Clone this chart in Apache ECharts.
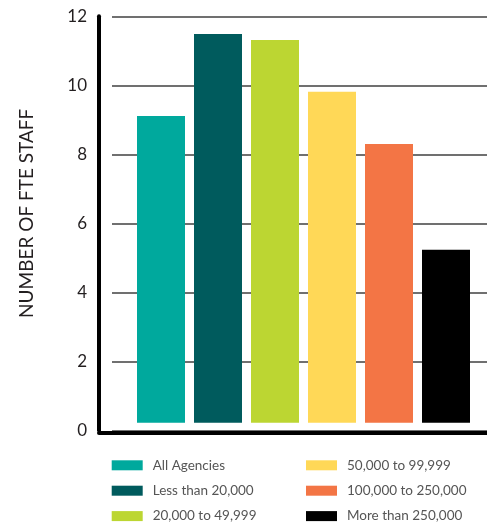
<!DOCTYPE html>
<html>
<head>
<meta charset="utf-8">
<script src="https://cdn.jsdelivr.net/npm/echarts@6/dist/echarts.min.js"></script>
<style>
html,body{margin:0;padding:0;background:#fff;}
#chart{width:487px;height:527px;}
</style>
</head>
<body>
<div id="chart"></div>
<script>
const categories = ['All Agencies', 'Less than 20,000', '20,000 to 49,999', '50,000 to 99,999', '100,000 to 250,000', 'More than 250,000'];
const values = [9.11, 11.49, 11.31, 9.81, 8.30, 5.23];
const yTicks = [0, 2, 4, 6, 8, 10, 12];
const yTitle = 'NUMBER OF FTE STAFF';

const palette = ['#00a99d', '#005b5d', '#bcd632', '#ffd857', '#f37545', '#000000'];
const FONT = 'Lato';

const chart = echarts.init(document.getElementById('chart'), null, {renderer: 'canvas'});

const series = categories.map((name, i) => ({
  name: name,
  type: 'bar',
  xAxisIndex: 2,
  yAxisIndex: 2,
  barWidth: 48,
  barGap: '-100%',
  itemStyle: {color: palette[i]},
  data: values.map((v, j) => (j === i ? v : '-'))
}));

const option = {
  backgroundColor: '#fff',
  animation: false,
  grid: [
    {left: 99, right: 0, top: 16.3, bottom: 96.7},
    {left: 112, right: 0, top: 16.3, bottom: 96.7},
    {left: 132.5, right: 12.5, top: 16.3, bottom: 104.3}
  ],
  xAxis: [
    {gridIndex: 0, type: 'category', data: [''], offset: 2,
     axisLine: {show: true, onZero: false, lineStyle: {color: '#000', width: 4}},
     axisTick: {show: false}, axisLabel: {show: false}, splitLine: {show: false}},
    {gridIndex: 1, type: 'category', data: [''], show: false},
    {gridIndex: 2, type: 'category', data: categories, show: false}
  ],
  yAxis: [
    {gridIndex: 0, type: 'value', min: yTicks[0], max: yTicks[yTicks.length - 1], interval: 2,
     axisLine: {show: true, lineStyle: {color: '#000', width: 4}},
     axisTick: {show: false},
     axisLabel: {show: true, fontFamily: FONT, fontSize: 17, color: '#231f20', margin: 12},
     splitLine: {show: false},
     name: yTitle, nameLocation: 'middle', nameGap: 63, nameRotate: 90,
     nameTextStyle: {fontFamily: FONT, fontSize: 19, color: '#231f20', padding: [0, 0, 0, 20]}},
    {gridIndex: 1, type: 'value', min: yTicks[0], max: yTicks[yTicks.length - 1], interval: 2,
     axisLine: {show: false}, axisTick: {show: false}, axisLabel: {show: false},
     splitLine: {show: true, lineStyle: {color: '#707070', width: 2}}},
    {gridIndex: 2, type: 'value', min: 0.22, max: yTicks[yTicks.length - 1], show: false,
     splitLine: {show: false}}
  ],
  legend: [
    {data: categories.slice(0, 3), left: 111.7, top: 457.3, orient: 'vertical', padding: 0,
     icon: 'rect', itemWidth: 31, itemHeight: 10, itemGap: 9.4,
     textStyle: {fontFamily: FONT, fontSize: 13.5, color: '#555', lineHeight: 16, padding: [0, 0, 0, 5]}},
    {data: categories.slice(3), left: 306, top: 457.3, orient: 'vertical', padding: 0,
     icon: 'rect', itemWidth: 31, itemHeight: 10, itemGap: 9.4,
     textStyle: {fontFamily: FONT, fontSize: 13.5, color: '#555', lineHeight: 16, padding: [0, 0, 0, 5]}}
  ],
  series: series
};
chart.setOption(option);
</script>
</body>
</html>
